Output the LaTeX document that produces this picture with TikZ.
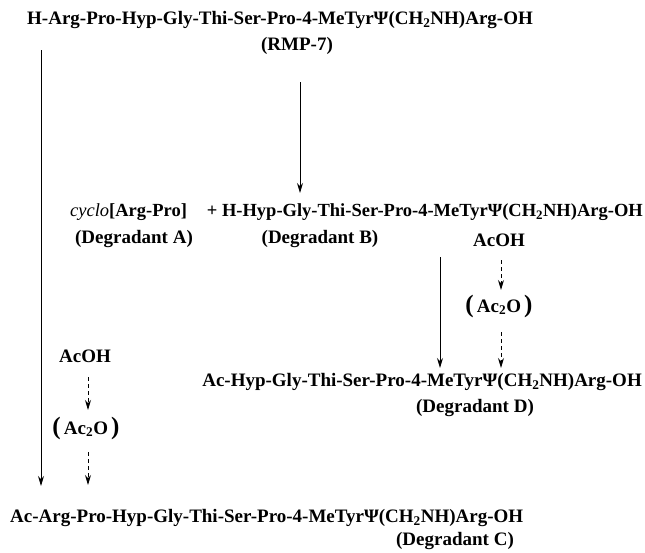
\documentclass[tikz,border=0pt]{standalone}
\usepackage{fontspec}
\setmainfont{Liberation Serif}
\usetikzlibrary{arrows.meta}
\newcommand{\acto}{{\fontsize{25}{25}\selectfont(}\,Ac\textsubscript{2}O\,{\fontsize{25}{25}\selectfont)}}
\begin{document}
\begin{tikzpicture}[x=1pt,y=-1pt,
  lbl/.style={font=\fontsize{19}{22}\selectfont\bfseries, inner sep=0pt, anchor=center},
  lbls/.style={font=\fontsize{18.5}{22}\selectfont\bfseries, inner sep=0pt, anchor=center},
  arr/.style={line width=1pt, -{Stealth[length=10pt,width=6pt]}},
  darr/.style={line width=1pt, dash pattern=on 4pt off 3pt, -{Stealth[length=10pt,width=6pt]}}]
\useasboundingbox (0,0) rectangle (645,552);
\node[lbl, anchor=west] (rmp) at (27,20) {H-Arg-Pro-Hyp-Gly-Thi-Ser-Pro-4-MeTyrΨ(CH\textsubscript{2}NH)Arg-OH};
\node[lbl] (rmpn) at (297,46) {(RMP-7)};
\node[lbls, anchor=west] (a) at (70,212) {\textmd{\itshape cyclo}[Arg-Pro]};
\node[lbls, anchor=east] (b) at (643,212) {+ H-Hyp-Gly-Thi-Ser-Pro-4-MeTyrΨ(CH\textsubscript{2}NH)Arg-OH};
\node[lbl] (da) at (134,239) {(Degradant A)};
\node[lbl] (db) at (320,239) {(Degradant B)};
\node[lbl] (acoh1) at (499,240) {AcOH};
\node[lbl] (ac2o1) at (499,306) {\acto};
\node[lbl, anchor=east] (d) at (642,382) {Ac-Hyp-Gly-Thi-Ser-Pro-4-MeTyrΨ(CH\textsubscript{2}NH)Arg-OH};
\node[lbl] (dd) at (475,408) {(Degradant D)};
\node[lbl] (acoh2) at (85,356) {AcOH};
\node[lbl] (ac2o2) at (86,428) {\acto};
\node[lbl, anchor=west] (c) at (10,518) {Ac-Arg-Pro-Hyp-Gly-Thi-Ser-Pro-4-MeTyrΨ(CH\textsubscript{2}NH)Arg-OH};
\node[lbl] (dc) at (455,541) {(Degradant C)};
% connectors
\coordinate (s1) at (41,50); \coordinate (e1) at (41,486);
\draw[arr] (s1) -- (e1);
\coordinate (s2) at (300,82); \coordinate (e2) at (300,193);
\draw[arr] (s2) -- (e2);
\coordinate (s3) at (440,257); \coordinate (e3) at (440,368);
\draw[arr] (s3) -- (e3);
\coordinate (s4) at (501,260); \coordinate (e4) at (501,290);
\draw[darr] (s4) -- (e4);
\coordinate (s5) at (501,332); \coordinate (e5) at (501,368);
\draw[darr] (s5) -- (e5);
\coordinate (s6) at (88,377); \coordinate (e6) at (88,410);
\draw[darr] (s6) -- (e6);
\coordinate (s7) at (88,452); \coordinate (e7) at (88,485);
\draw[darr] (s7) -- (e7);
\end{tikzpicture}
\end{document}
